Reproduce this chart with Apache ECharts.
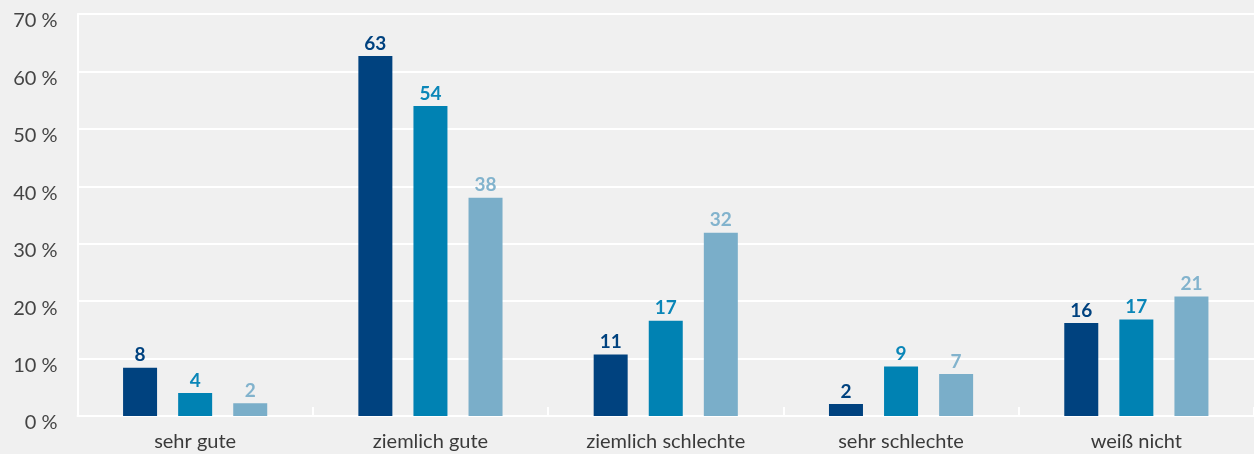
<!DOCTYPE html>
<html><head><meta charset="utf-8">
<script src="https://cdn.jsdelivr.net/npm/echarts@6/dist/echarts.min.js"></script>
<style>html,body{margin:0;padding:0;background:#f0f0f0;}#c{width:1254px;height:454px;}</style>
</head><body><div id="c"></div>
<script>
const categories = ['sehr gute', 'ziemlich gute', 'ziemlich schlechte', 'sehr schlechte', 'weiß nicht'];
const series1 = [8.4, 62.7, 10.7, 2.1, 16.2];
const series2 = [4.0, 54.0, 16.6, 8.6, 16.8];
const series3 = [2.2, 38.0, 31.9, 7.3, 20.8];
const colors = ['#00427f', '#0082b3', '#7aaec9'];
const labelColors = ['#00427f', '#0a86b8', '#82b3cd'];
const yTicks = [0, 10, 20, 30, 40, 50, 60, 70];

const chart = echarts.init(document.getElementById('c'), null, {renderer: 'canvas'});
const mk = (name, data, i) => ({
  name, type: 'bar', data, barWidth: 34, barGap: '62%',
  itemStyle: {color: colors[i]},
  label: {show: true, position: 'top', distance: 3, color: labelColors[i],
    fontFamily: 'Lato', fontWeight: 'bold', fontSize: 19,
    formatter: p => Math.round(p.value)}
});
chart.setOption({
  backgroundColor: '#f0f0f0',
  animation: false,
  grid: {left: 77.5, right: -4.5, top: 14, bottom: 38, containLabel: false},
  xAxis: {type: 'category', data: categories,
    axisLine: {lineStyle: {color: '#ffffff', width: 2}},
    axisTick: {show: true, inside: true, length: 9, lineStyle: {color: '#ffffff', width: 2}},
    axisLabel: {color: '#3a3a3a', fontFamily: 'Lato', fontSize: 20, margin: 16}},
  yAxis: {type: 'value', min: yTicks[0], max: yTicks[yTicks.length - 1], interval: 10,
    axisLine: {show: true, lineStyle: {color: '#ffffff', width: 2}},
    axisTick: {show: false},
    splitLine: {lineStyle: {color: '#ffffff', width: 2}},
    axisLabel: {color: '#444444', fontFamily: 'Lato', fontSize: 20, margin: 20,
      verticalAlign: 'top', lineHeight: 14,
      formatter: v => v + ' %'}},
  series: [mk('s1', series1, 0), mk('s2', series2, 1), mk('s3', series3, 2)]
});
</script></body></html>
